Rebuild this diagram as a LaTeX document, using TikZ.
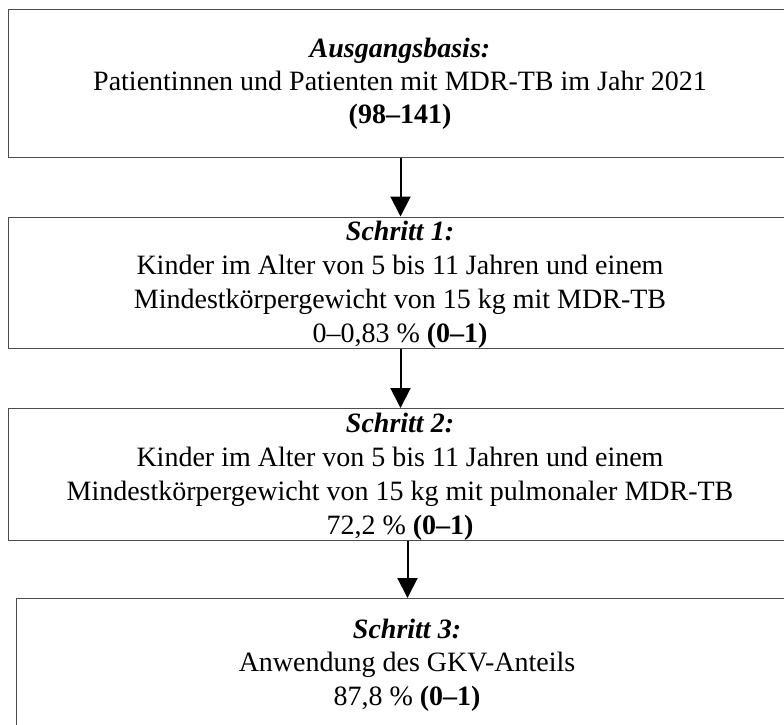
\documentclass[tikz,border=0pt]{standalone}
\usepackage{fontspec}
\setmainfont{Liberation Serif}
\usetikzlibrary{arrows.meta}
\begin{document}
\begin{tikzpicture}[x=1pt,y=-1pt,
  box/.style={draw=black!70, line width=1pt, inner sep=0pt, anchor=north west},
  txt/.style={anchor=base, inner sep=0pt, font=\fontsize{28}{34}\selectfont},
  arr/.style={-{Triangle[length=20pt,width=20pt]}, line width=2pt, black}]
\useasboundingbox (0,0) rectangle (784,725);
\clip (0,0) rectangle (784,725);
% boxes
\node[box, minimum width=784pt, minimum height=148pt] (b0) at (8,9) {};
\node[box, minimum width=784pt, minimum height=131.5pt] (b1) at (8,216.5) {};
\node[box, minimum width=784pt, minimum height=132pt] (b2) at (8,408) {};
\node[box, minimum width=782pt, minimum height=150pt] (b3) at (16,598) {};
% texts box 0
\node[txt] (t01) at (400,57) {\textbf{\textit{Ausgangsbasis:}}};
\node[txt] (t02) at (400,90) {Patientinnen und Patienten mit MDR-TB im Jahr 2021};
\node[txt] (t03) at (400,123) {\textbf{(98–141)}};
% box 1
\node[txt] (t11) at (400,240.5) {\textbf{\textit{Schritt 1:}}};
\node[txt] (t12) at (400,274.5) {Kinder im Alter von 5 bis 11 Jahren und einem};
\node[txt] (t13) at (400,308.5) {Mindestkörpergewicht von 15 kg mit MDR-TB};
\node[txt] (t14) at (400,342.5) {0–0,83 \% \textbf{(0–1)}};
% box 2
\node[txt] (t21) at (400,432) {\textbf{\textit{Schritt 2:}}};
\node[txt] (t22) at (400,466) {Kinder im Alter von 5 bis 11 Jahren und einem};
\node[txt] (t23) at (400,500) {Mindestkörpergewicht von 15 kg mit pulmonaler MDR-TB};
\node[txt] (t24) at (400,534) {72,2 \% \textbf{(0–1)}};
% box 3
\node[txt] (t31) at (407,638) {\textbf{\textit{Schritt 3:}}};
\node[txt] (t32) at (407,671) {Anwendung des GKV-Anteils};
\node[txt] (t33) at (407,705) {87,8 \% \textbf{(0–1)}};
% arrows
\draw[arr] (b0.south) -- (b1.north);
\draw[arr] (b1.south) -- (b2.north);
\draw[arr] (b2.south -| b3.north) -- (b3.north);
\end{tikzpicture}
\end{document}
